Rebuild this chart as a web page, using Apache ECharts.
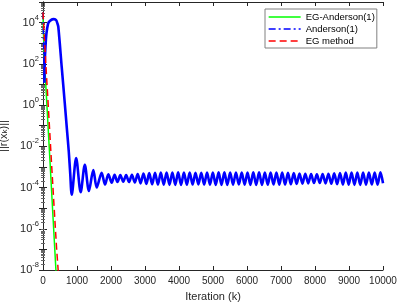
<!DOCTYPE html>
<html><head><meta charset="utf-8">
<script src="https://cdn.jsdelivr.net/npm/echarts@6/dist/echarts.min.js"></script>
<style>html,body{margin:0;padding:0;background:#fff}#c{width:399px;height:304px}</style>
</head><body><div id="c"></div>
<script>
// ---- data (iteration k, residual ||r(x_k)||) ----
const egAndersonIter = [0, 10, 25, 45, 100, 200, 300, 382, 395];
const egAndersonRes  = [3.2e4, 5e3, 8e2, 1.26e2, 2.8, 2.8e-3, 2.5e-6, 8.7e-9, 3.5e-9];

const andersonEarlyIter = [0, 15, 30, 42];
const andersonEarlyRes  = [3.2e4, 1.6e3, 1e2, 12];

const andersonIter = [42, 50, 70, 100, 150, 200, 300, 380, 420, 450, 550, 640, 700, 760, 800, 845,
  975, 1108, 1230, 1350, 1480, 1580, 1725, 1824, 1922,
  2020, 2105, 2190, 2275, 2360, 2445, 2530, 2615, 2700, 2785, 2870, 2955, 3040, 3125, 3210, 3295,
  3380, 3465, 3550, 3635, 3720, 3805, 3890, 3975, 4060, 4145, 4230, 4315, 4400, 4485, 4570, 4655,
  4740, 4825, 4910, 4995, 5080, 5165, 5250, 5335, 5420, 5505, 5590, 5675, 5760, 5845, 5930, 6015,
  6100, 6185, 6270, 6355, 6440, 6525, 6610, 6695, 6780, 6865, 6950, 7035, 7120, 7205, 7290, 7375,
  7460, 7545, 7630, 7715, 7800, 7885, 7970, 8055, 8140, 8225, 8310, 8395, 8480, 8565, 8650, 8735,
  8820, 8905, 8990, 9075, 9160, 9245, 9330, 9415, 9500, 9585, 9670, 9755, 9840, 9925, 10000];
const andersonRes = [12, 100, 562, 2820, 8900, 1.2e4, 1.48e4, 1.35e4, 9500, 6300, 71, 1.26, 0.079, 5e-3, 5e-4, 4.5e-5,
  2.7e-3, 6e-5, 1.26e-3, 6.8e-5, 7.1e-4, 1e-4, 5.2e-4, 1.4e-4, 4.4e-4,
  1.7e-4, 4.1e-4, 1.85e-4, 4.0e-4, 1.9e-4, 4.0e-4, 1.85e-4, 4.2e-4, 1.75e-4, 4.5e-4, 1.6e-4, 4.8e-4, 1.5e-4, 5.0e-4, 1.45e-4, 5.2e-4,
  1.4e-4, 5.3e-4, 1.38e-4, 5.4e-4, 1.35e-4, 5.4e-4, 1.35e-4, 5.5e-4, 1.35e-4, 5.4e-4, 1.37e-4, 5.3e-4, 1.4e-4, 5.2e-4, 1.42e-4, 5.2e-4,
  1.4e-4, 5.3e-4, 1.38e-4, 5.4e-4, 1.35e-4, 5.5e-4, 1.33e-4, 5.5e-4, 1.35e-4, 5.4e-4, 1.38e-4, 5.3e-4, 1.4e-4, 5.3e-4, 1.38e-4, 5.4e-4,
  1.35e-4, 5.5e-4, 1.33e-4, 5.5e-4, 1.35e-4, 5.4e-4, 1.37e-4, 5.3e-4, 1.4e-4, 5.4e-4, 1.38e-4, 5.4e-4, 1.4e-4, 5.2e-4, 1.45e-4, 5.0e-4,
  1.5e-4, 4.8e-4, 1.55e-4, 4.6e-4, 1.6e-4, 4.5e-4, 1.65e-4, 4.4e-4, 1.65e-4, 4.5e-4, 1.6e-4, 4.7e-4, 1.52e-4, 4.9e-4, 1.45e-4, 5.1e-4,
  1.4e-4, 5.3e-4, 1.38e-4, 5.4e-4, 1.35e-4, 5.4e-4, 1.35e-4, 5.3e-4, 1.38e-4, 5.3e-4, 1.4e-4, 5.4e-4, 1.38e-4, 5.5e-4, 1.6e-4];

const egIter = [0, 50, 100, 150, 200, 250, 300, 350, 400, 450, 465];
const egRes  = [3.2e4, 1e3, 32, 1.26, 4.5e-2, 1.6e-3, 6.3e-5, 2.5e-6, 1.1e-7, 7.9e-9, 3.2e-9];

const seriesNames = ['EG-Anderson(1)', 'Anderson(1)', 'EG method'];
const xTicks = {min: 0, max: 10000, interval: 1000};
const yRange = {min: 1e-8, max: 1e5};

function pairs(xs, ys) { return xs.map((x, i) => [x, ys[i]]); }

const AX = '#262626';
const chart = echarts.init(document.getElementById('c'), null, {renderer: 'canvas'});

const yLabel = {
  margin: 4,
  formatter: v => { const e = Math.round(Math.log10(v)); if (e % 2 !== 0) return ''; return '{b|10}{s|' + e + '}'; },
  rich: {
    b: {fontSize: 11, lineHeight: 18, color: AX, fontFamily: 'Liberation Sans'},
    s: {fontSize: 7.5, lineHeight: 9, verticalAlign: 'top', color: AX, fontFamily: 'Liberation Sans'}
  }
};
const yCommon = {
  type: 'log', logBase: 10, min: yRange.min, max: yRange.max, interval: 1,
  axisLine: {show: true, lineStyle: {color: AX, width: 1}},
  axisTick: {show: true, inside: true, length: 4, lineStyle: {color: AX}},
  minorTick: {show: true, splitNumber: 9, length: 2, lineStyle: {color: '#666'}},
  splitLine: {show: false}, minorSplitLine: {show: false}
};
const xCommon = {
  type: 'value', min: xTicks.min, max: xTicks.max, interval: xTicks.interval,
  axisLine: {show: true, onZero: false, lineStyle: {color: AX, width: 1}},
  axisTick: {show: true, inside: true, length: 4, lineStyle: {color: AX}},
  splitLine: {show: false}
};

chart.setOption({
  animation: false,
  backgroundColor: '#fff',
  textStyle: {fontFamily: 'Liberation Sans'},
  grid: {left: 43, right: 16, top: 2, bottom: 34, containLabel: false, outerBoundsMode: 'none'},
  legend: {
    orient: 'vertical', left: 265, top: 9,
    data: seriesNames,
    itemWidth: 32, itemHeight: 11, itemGap: 2,
    padding: [3, 2, 2, 3],
    backgroundColor: '#fff', borderColor: '#808080', borderWidth: 1,
    textStyle: {fontSize: 9.5, color: '#000', fontFamily: 'Liberation Sans'},
    itemStyle: {opacity: 0},
    lineStyle: {width: 1.3}
  },
  xAxis: [
    Object.assign({}, xCommon, {
      position: 'bottom',
      name: 'Iteration (k)', nameLocation: 'middle', nameGap: 21,
      nameTextStyle: {fontSize: 11, color: AX},
      axisLabel: {fontSize: 10, color: AX, margin: 6, formatter: v => String(v)}
    }),
    Object.assign({}, xCommon, {position: 'top', axisLabel: {show: false}})
  ],
  yAxis: [
    Object.assign({}, yCommon, {
      position: 'left',
      name: '||r(x{k|k})||', nameLocation: 'middle', nameGap: 31,
      nameTextStyle: {fontSize: 11, color: AX, rich: {k: {fontSize: 8, verticalAlign: 'bottom', color: AX}}},
      axisLabel: yLabel
    }),
    Object.assign({}, yCommon, {position: 'right', axisLabel: {show: false}})
  ],
  series: [
    {name: seriesNames[0], type: 'line', symbol: 'none', data: pairs(egAndersonIter, egAndersonRes),
     lineStyle: {color: '#00ff00', width: 1.5}, itemStyle: {color: '#00ff00'}, z: 2},
    {name: seriesNames[1], type: 'line', symbol: 'none', data: pairs(andersonEarlyIter, andersonEarlyRes),
     lineStyle: {color: '#0000ff', width: 1.5, type: [7, 3, 2, 3]}, itemStyle: {color: '#0000ff'}, z: 3},
    {name: seriesNames[1], type: 'line', symbol: 'none', data: pairs(andersonIter, andersonRes), smooth: 0.3,
     lineStyle: {color: '#0000ff', width: 2.6}, itemStyle: {color: '#0000ff'}, z: 3},
    {name: seriesNames[2], type: 'line', symbol: 'none', data: pairs(egIter, egRes),
     lineStyle: {color: '#ff0000', width: 1.5, type: [7, 4]}, itemStyle: {color: '#ff0000'}, z: 4}
  ]
});
</script>
</body></html>
